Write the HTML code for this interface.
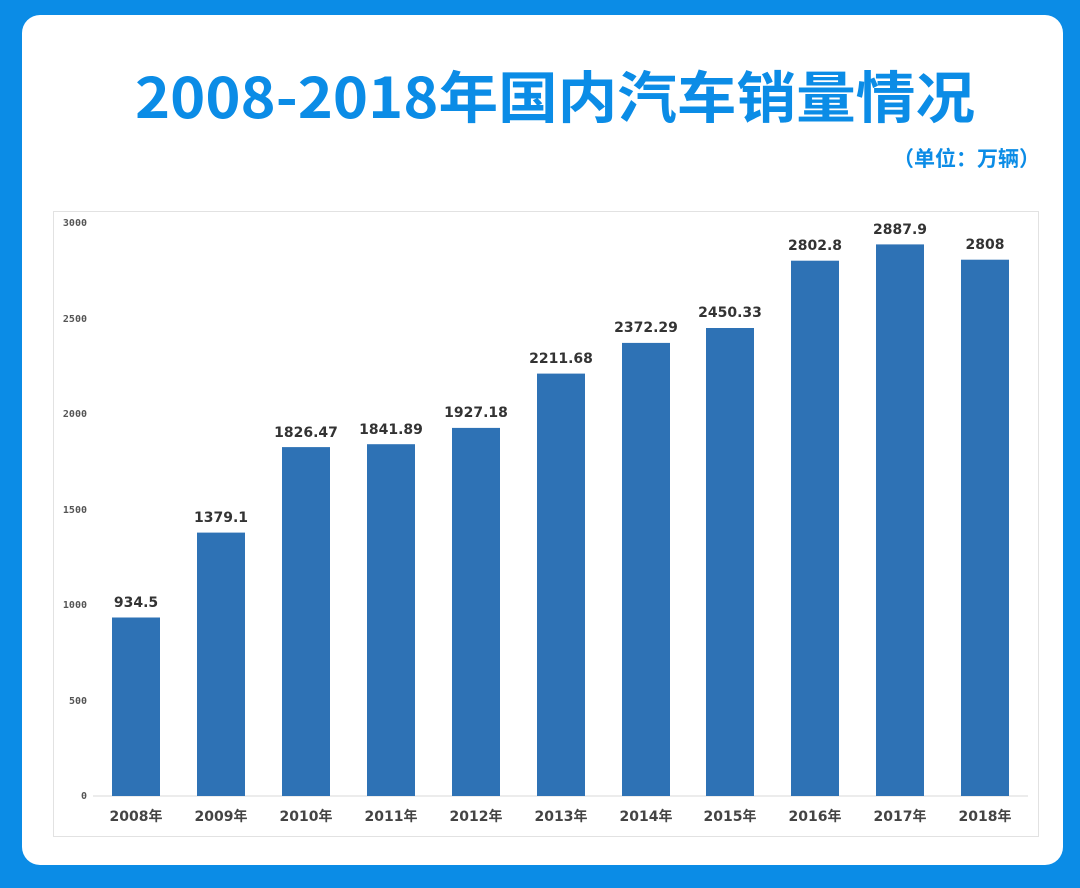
<!DOCTYPE html>
<html><head><meta charset="utf-8"><style>
html,body{margin:0;padding:0;background:#0b8ce6;width:1080px;height:888px;overflow:hidden}
</style></head><body>
<svg width="1080" height="888" xmlns="http://www.w3.org/2000/svg" font-family="Liberation Sans, Noto Sans CJK SC, sans-serif">
<rect x="0" y="0" width="1080" height="888" fill="#0b8ce6"/>
<rect x="22" y="15" width="1041" height="850" rx="18" fill="#ffffff"/>
<text x="555" y="118" text-anchor="middle" font-size="56" font-weight="bold" fill="#0b8ce6" font-family="Noto Sans CJK SC, sans-serif" textLength="840" lengthAdjust="spacingAndGlyphs">2008-2018年国内汽车销量情况</text>
<text x="1040" y="166" text-anchor="end" font-size="21" font-weight="bold" fill="#0b8ce6" font-family="Noto Sans CJK SC, sans-serif">（单位：万辆）</text>
<rect x="53.5" y="211.5" width="985" height="625" fill="#fff" stroke="#e2e2e2"/>
<line x1="93" y1="796" x2="1028" y2="796" stroke="#d8d8d8"/>
<g font-size="10" font-weight="bold" fill="#555" text-anchor="end" font-family="DejaVu Sans Mono, monospace">
<text x="87" y="226">3000</text><text x="87" y="322">2500</text><text x="87" y="417">2000</text>
<text x="87" y="513">1500</text><text x="87" y="608">1000</text><text x="87" y="704">500</text><text x="87" y="799">0</text>
</g>
<g fill="#2e72b5">
<rect x="112" y="617.5" width="48" height="178.5"/>
<rect x="197" y="532.6" width="48" height="263.4"/>
<rect x="282" y="447.1" width="48" height="348.9"/>
<rect x="367" y="444.2" width="48" height="351.8"/>
<rect x="452" y="427.9" width="48" height="368.1"/>
<rect x="537" y="373.6" width="48" height="422.4"/>
<rect x="622" y="342.9" width="48" height="453.1"/>
<rect x="706" y="328" width="48" height="468"/>
<rect x="791" y="260.7" width="48" height="535.3"/>
<rect x="876" y="244.4" width="48" height="551.6"/>
<rect x="961" y="259.7" width="48" height="536.3"/>
</g>
<g font-size="14" font-weight="bold" fill="#333" text-anchor="middle" font-family="DejaVu Sans, sans-serif">
<text x="136" y="607">934.5</text><text x="221" y="522">1379.1</text><text x="306" y="437">1826.47</text>
<text x="391" y="434">1841.89</text><text x="476" y="417">1927.18</text><text x="561" y="363">2211.68</text>
<text x="646" y="332">2372.29</text><text x="730" y="317">2450.33</text><text x="815" y="250">2802.8</text>
<text x="900" y="234">2887.9</text><text x="985" y="249">2808</text>
</g>
<g font-size="14" font-weight="bold" fill="#444" text-anchor="middle" font-family="DejaVu Sans, Noto Sans CJK SC, sans-serif">
<text x="136" y="821">2008年</text><text x="221" y="821">2009年</text><text x="306" y="821">2010年</text>
<text x="391" y="821">2011年</text><text x="476" y="821">2012年</text><text x="561" y="821">2013年</text>
<text x="646" y="821">2014年</text><text x="730" y="821">2015年</text><text x="815" y="821">2016年</text>
<text x="900" y="821">2017年</text><text x="985" y="821">2018年</text>
</g>
</svg>
</body></html>
